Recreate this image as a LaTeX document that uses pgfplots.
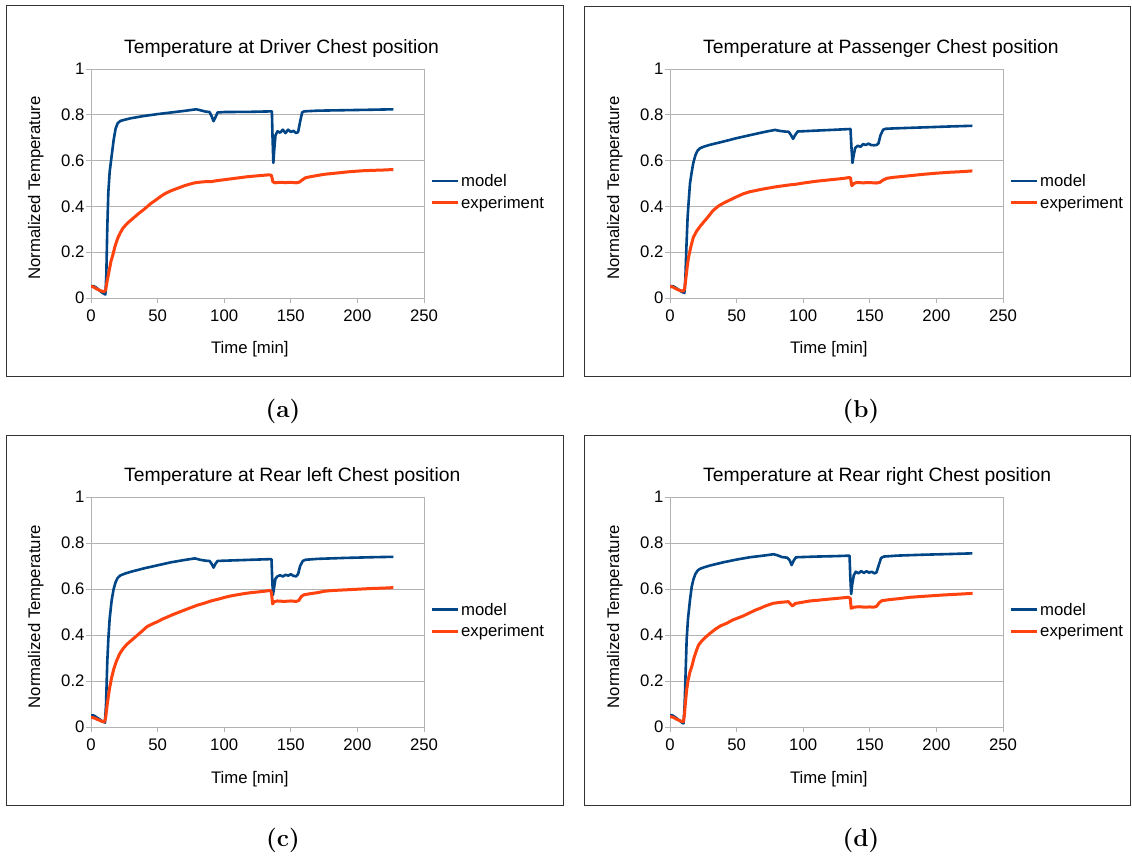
\documentclass[border=0pt]{standalone}
\usepackage{fontspec}
\usepackage{pgfplots}
\pgfplotsset{compat=1.18}
\newfontfamily\arial{Liberation Sans}
\definecolor{modelc}{HTML}{004586}
\definecolor{expc}{HTML}{FF420E}
\definecolor{gridc}{HTML}{B3B3B3}
\pgfplotsset{panel/.style={
  scale only axis, width=333bp, height=229bp, anchor=south west,
  xmin=0, xmax=250, ymin=0, ymax=1,
  xtick={0,50,100,150,200,250}, ytick={0,0.2,0.4,0.6,0.8,1},
  axis line style={gridc, line width=0.8bp},
  every tick/.style={gridc, line width=0.8bp},
  tick align=outside, tick pos=left, major tick length=5bp,
  ymajorgrids, grid style={gridc, line width=0.8bp},
  /pgf/number format/assume math mode=true,
  tick label style={font=\arial\fontsize{16.8}{20}\selectfont, black},
  xticklabel style={yshift=-3bp},
  yticklabel style={xshift=2bp},
  title style={at={(axis description cs:0.099,1)}, anchor=base west, inner sep=0pt, yshift=10bp, font=\arial\fontsize{19.4}{22}\selectfont},
  xlabel={Time [min]},
  xlabel style={at={(axis description cs:0.477,0)}, anchor=base, yshift=-56bp, font=\arial\fontsize{16.8}{20}\selectfont},
  ylabel={Normalized Temperature},
  ylabel style={at={(axis description cs:-0.166,0.48)}, anchor=center, font=\arial\fontsize{16.8}{20}\selectfont},
  legend style={at={(axis description cs:1.018,0.463)}, anchor=west, draw=none, fill=none,
    font=\arial\fontsize{16.8}{20}\selectfont, inner sep=0pt, row sep=4bp, cells={anchor=west}},
  legend image code/.code={\draw[#1] (0bp,0bp) -- (26bp,0bp);},
  mline/.style={modelc, line width=2.6bp, line join=round},
  eline/.style={expc, line width=3bp, line join=round},
}}
\begin{document}
\begin{tikzpicture}
\useasboundingbox (0,0) rectangle (1132bp,859bp);
\draw[line width=1bp, black!80] (6bp,482bp) rectangle (563bp,853bp);
\draw[line width=1bp, black!80] (584.5bp,482bp) rectangle (1130.5bp,852bp);
\draw[line width=1bp, black!80] (6bp,53bp) rectangle (563bp,423.5bp);
\draw[line width=1bp, black!80] (584.5bp,53bp) rectangle (1130.5bp,423.5bp);
\node[font=\fontsize{24.5}{28}\selectfont\bfseries] at (283bp,448bp) {(a)};
\node[font=\fontsize{24.5}{28}\selectfont\bfseries] at (861bp,448bp) {(b)};
\node[font=\fontsize{24.5}{28}\selectfont\bfseries] at (283bp,19bp) {(c)};
\node[font=\fontsize{24.5}{28}\selectfont\bfseries] at (861bp,19bp) {(d)};

% (a)
\begin{axis}[panel, at={(91bp,561bp)}, title={Temperature at Driver Chest position}]
\addplot[mline] coordinates {(0,0.052) (2,0.052) (4,0.045) (6,0.035) (8,0.025) (10,0.018) (10.8,0.015) (11.5,0.1) (12.2,0.3) (13,0.46) (14,0.55) (15.5,0.62) (17,0.69) (18.5,0.74) (20,0.763) (22,0.773) (25,0.778) (30,0.785) (40,0.795) (50,0.803) (60,0.810) (70,0.817) (79,0.824) (82,0.82) (86,0.814) (89,0.812) (90.5,0.795) (92,0.772) (93.5,0.79) (95,0.81) (100,0.812) (120,0.813) (135.8,0.815) (136.3,0.70) (136.9,0.59) (137.6,0.65) (138.5,0.71) (140,0.728) (142,0.722) (144,0.735) (146,0.72) (148,0.735) (150,0.725) (152,0.73) (154,0.72) (155.5,0.725) (157,0.77) (158.5,0.81) (160,0.815) (170,0.818) (190,0.82) (210,0.822) (227,0.824)};
\addplot[eline] coordinates {(0,0.05) (2,0.048) (4,0.04) (6,0.035) (8,0.03) (10,0.028) (11,0.035) (12,0.07) (13,0.1) (14,0.13) (15,0.16) (16.5,0.19) (18,0.225) (20,0.26) (22,0.285) (24,0.305) (26,0.318) (28,0.33) (30,0.34) (33,0.355) (36,0.37) (39,0.383) (42,0.398) (45,0.413) (48,0.425) (51,0.438) (54,0.45) (57,0.46) (60,0.468) (63,0.475) (66,0.481) (70,0.49) (74,0.497) (78,0.503) (82,0.506) (86,0.508) (90,0.508) (94,0.512) (98,0.515) (102,0.518) (106,0.521) (110,0.524) (114,0.527) (118,0.53) (122,0.532) (126,0.534) (130,0.536) (134,0.538) (135.5,0.535) (136.5,0.508) (138,0.503) (142,0.505) (146,0.504) (150,0.505) (154,0.503) (156.5,0.506) (158.5,0.515) (161,0.525) (165,0.53) (170,0.535) (175,0.54) (180,0.543) (185,0.546) (190,0.549) (195,0.552) (200,0.554) (205,0.556) (210,0.557) (215,0.558) (220,0.559) (227,0.561)};
\legend{model, experiment}
\end{axis}

% (b)
\begin{axis}[panel, at={(670bp,561bp)}, title={Temperature at Passenger Chest position}]
\addplot[mline] coordinates {(0,0.052) (2,0.052) (4,0.046) (6,0.038) (8,0.03) (10,0.024) (10.8,0.022) (11.5,0.08) (12.3,0.22) (13.2,0.35) (14,0.42) (15,0.5) (16.3,0.55) (17.5,0.59) (19,0.622) (20.5,0.642) (22.5,0.654) (26,0.662) (30,0.669) (40,0.683) (50,0.698) (60,0.711) (70,0.724) (78.8,0.734) (82,0.73) (86,0.727) (89,0.726) (90.8,0.712) (92.4,0.695) (94,0.712) (95.8,0.727) (110,0.731) (125,0.735) (135.5,0.738) (136.2,0.66) (137,0.59) (137.8,0.62) (139,0.655) (141,0.665) (143,0.66) (145,0.672) (147,0.668) (149,0.674) (151,0.668) (153,0.667) (155,0.668) (156.5,0.675) (158,0.71) (160,0.735) (162,0.739) (170,0.741) (190,0.745) (210,0.749) (227,0.752)};
\addplot[eline] coordinates {(0,0.05) (2,0.048) (4,0.042) (6,0.036) (8,0.032) (10,0.03) (11,0.04) (12,0.09) (13,0.14) (14,0.18) (15.5,0.22) (17.5,0.265) (20,0.292) (22.5,0.312) (25,0.33) (28,0.35) (32,0.38) (36,0.4) (40,0.414) (45,0.428) (50,0.442) (55,0.455) (60,0.464) (65,0.47) (70,0.476) (75,0.481) (80,0.486) (85,0.49) (90,0.494) (95,0.497) (100,0.502) (105,0.506) (110,0.51) (115,0.513) (120,0.516) (125,0.519) (130,0.522) (134.5,0.526) (135.5,0.524) (136.5,0.49) (138,0.5) (140,0.504) (145,0.503) (150,0.504) (155,0.502) (157.5,0.505) (160,0.515) (163,0.523) (168,0.527) (175,0.531) (180,0.534) (190,0.54) (200,0.545) (210,0.549) (220,0.552) (227,0.555)};
\legend{model, experiment}
\end{axis}

% (c)
\begin{axis}[panel, at={(91bp,132bp)}, height=230bp, title={Temperature at Rear left Chest position}]
\addplot[mline] coordinates {(0,0.05) (2,0.05) (4,0.043) (6,0.035) (8,0.027) (10,0.021) (10.5,0.019) (11.3,0.1) (12.2,0.28) (13,0.38) (14,0.47) (15.5,0.55) (17,0.6) (18.5,0.63) (20,0.648) (22,0.659) (26,0.668) (30,0.675) (40,0.69) (50,0.703) (60,0.716) (70,0.726) (78,0.733) (82,0.727) (86,0.723) (89,0.722) (90.5,0.71) (92,0.693) (93.5,0.71) (95,0.722) (110,0.725) (125,0.728) (135.5,0.73) (136,0.65) (136.6,0.574) (137.3,0.6) (138.5,0.645) (140,0.655) (142,0.66) (144,0.654) (146,0.662) (148,0.658) (150,0.664) (152,0.657) (154,0.655) (155.5,0.665) (157,0.7) (159,0.722) (161,0.727) (170,0.731) (190,0.735) (210,0.738) (227,0.74)};
\addplot[eline] coordinates {(0,0.042) (2,0.04) (4,0.035) (6,0.03) (8,0.025) (10,0.022) (11,0.04) (12,0.09) (13,0.132) (14,0.17) (15.5,0.215) (17,0.25) (19,0.285) (21.5,0.318) (24,0.34) (27,0.36) (30,0.375) (34,0.395) (38,0.415) (42,0.436) (46,0.448) (50,0.458) (54,0.47) (58,0.48) (62,0.49) (66,0.499) (70,0.508) (75,0.519) (80,0.53) (85,0.538) (90,0.548) (95,0.555) (100,0.563) (105,0.57) (110,0.575) (115,0.58) (120,0.584) (125,0.587) (130,0.59) (134.5,0.594) (135.5,0.585) (136.3,0.535) (137.5,0.545) (140,0.548) (145,0.546) (150,0.548) (154,0.546) (156,0.55) (158,0.568) (160,0.575) (165,0.58) (170,0.584) (175,0.59) (180,0.593) (190,0.596) (200,0.599) (210,0.602) (220,0.604) (227,0.606)};
\legend{model, experiment}
\end{axis}

% (d)
\begin{axis}[panel, at={(670bp,132bp)}, height=230bp, title={Temperature at Rear right Chest position}]
\addplot[mline] coordinates {(0,0.052) (2,0.05) (4,0.042) (6,0.033) (8,0.024) (9.5,0.017) (10.2,0.016) (11,0.1) (11.8,0.25) (12.5,0.38) (13.5,0.47) (15,0.552) (16.3,0.61) (17.5,0.64) (19,0.665) (21,0.682) (23,0.689) (26,0.695) (30,0.702) (40,0.716) (50,0.728) (60,0.738) (70,0.745) (77.6,0.751) (80,0.748) (84,0.739) (88,0.736) (89.8,0.725) (91.3,0.704) (93,0.725) (94.6,0.738) (110,0.741) (125,0.743) (134.8,0.745) (135.3,0.66) (136,0.578) (136.8,0.62) (138,0.66) (139.5,0.675) (141.5,0.668) (143.5,0.678) (145.5,0.67) (147.5,0.677) (149.5,0.671) (151.5,0.675) (153.5,0.668) (155,0.672) (156.5,0.7) (158.5,0.735) (160.5,0.741) (170,0.745) (190,0.749) (210,0.752) (227,0.755)};
\addplot[eline] coordinates {(0,0.045) (2,0.043) (4,0.037) (6,0.031) (8,0.026) (10,0.023) (10.8,0.05) (11.5,0.1) (12.5,0.161) (13.5,0.2) (15,0.24) (16.3,0.262) (18,0.3) (20,0.335) (21.5,0.357) (24,0.375) (27,0.392) (30,0.407) (34,0.425) (38,0.44) (42.6,0.451) (47,0.465) (51,0.474) (55,0.483) (60,0.497) (64,0.508) (67.6,0.516) (72,0.527) (77.6,0.538) (83,0.542) (88.8,0.545) (90.5,0.535) (92,0.526) (94,0.537) (97,0.54) (105,0.548) (111,0.551) (117.6,0.555) (125,0.559) (133.9,0.564) (135.3,0.56) (136,0.516) (138,0.521) (142,0.523) (146,0.521) (150,0.522) (153,0.521) (155.2,0.525) (157,0.54) (159,0.549) (165,0.554) (172,0.558) (180.2,0.564) (190,0.568) (205.2,0.574) (215,0.577) (227.2,0.581)};
\legend{model, experiment}
\end{axis}
\end{tikzpicture}
\end{document}
